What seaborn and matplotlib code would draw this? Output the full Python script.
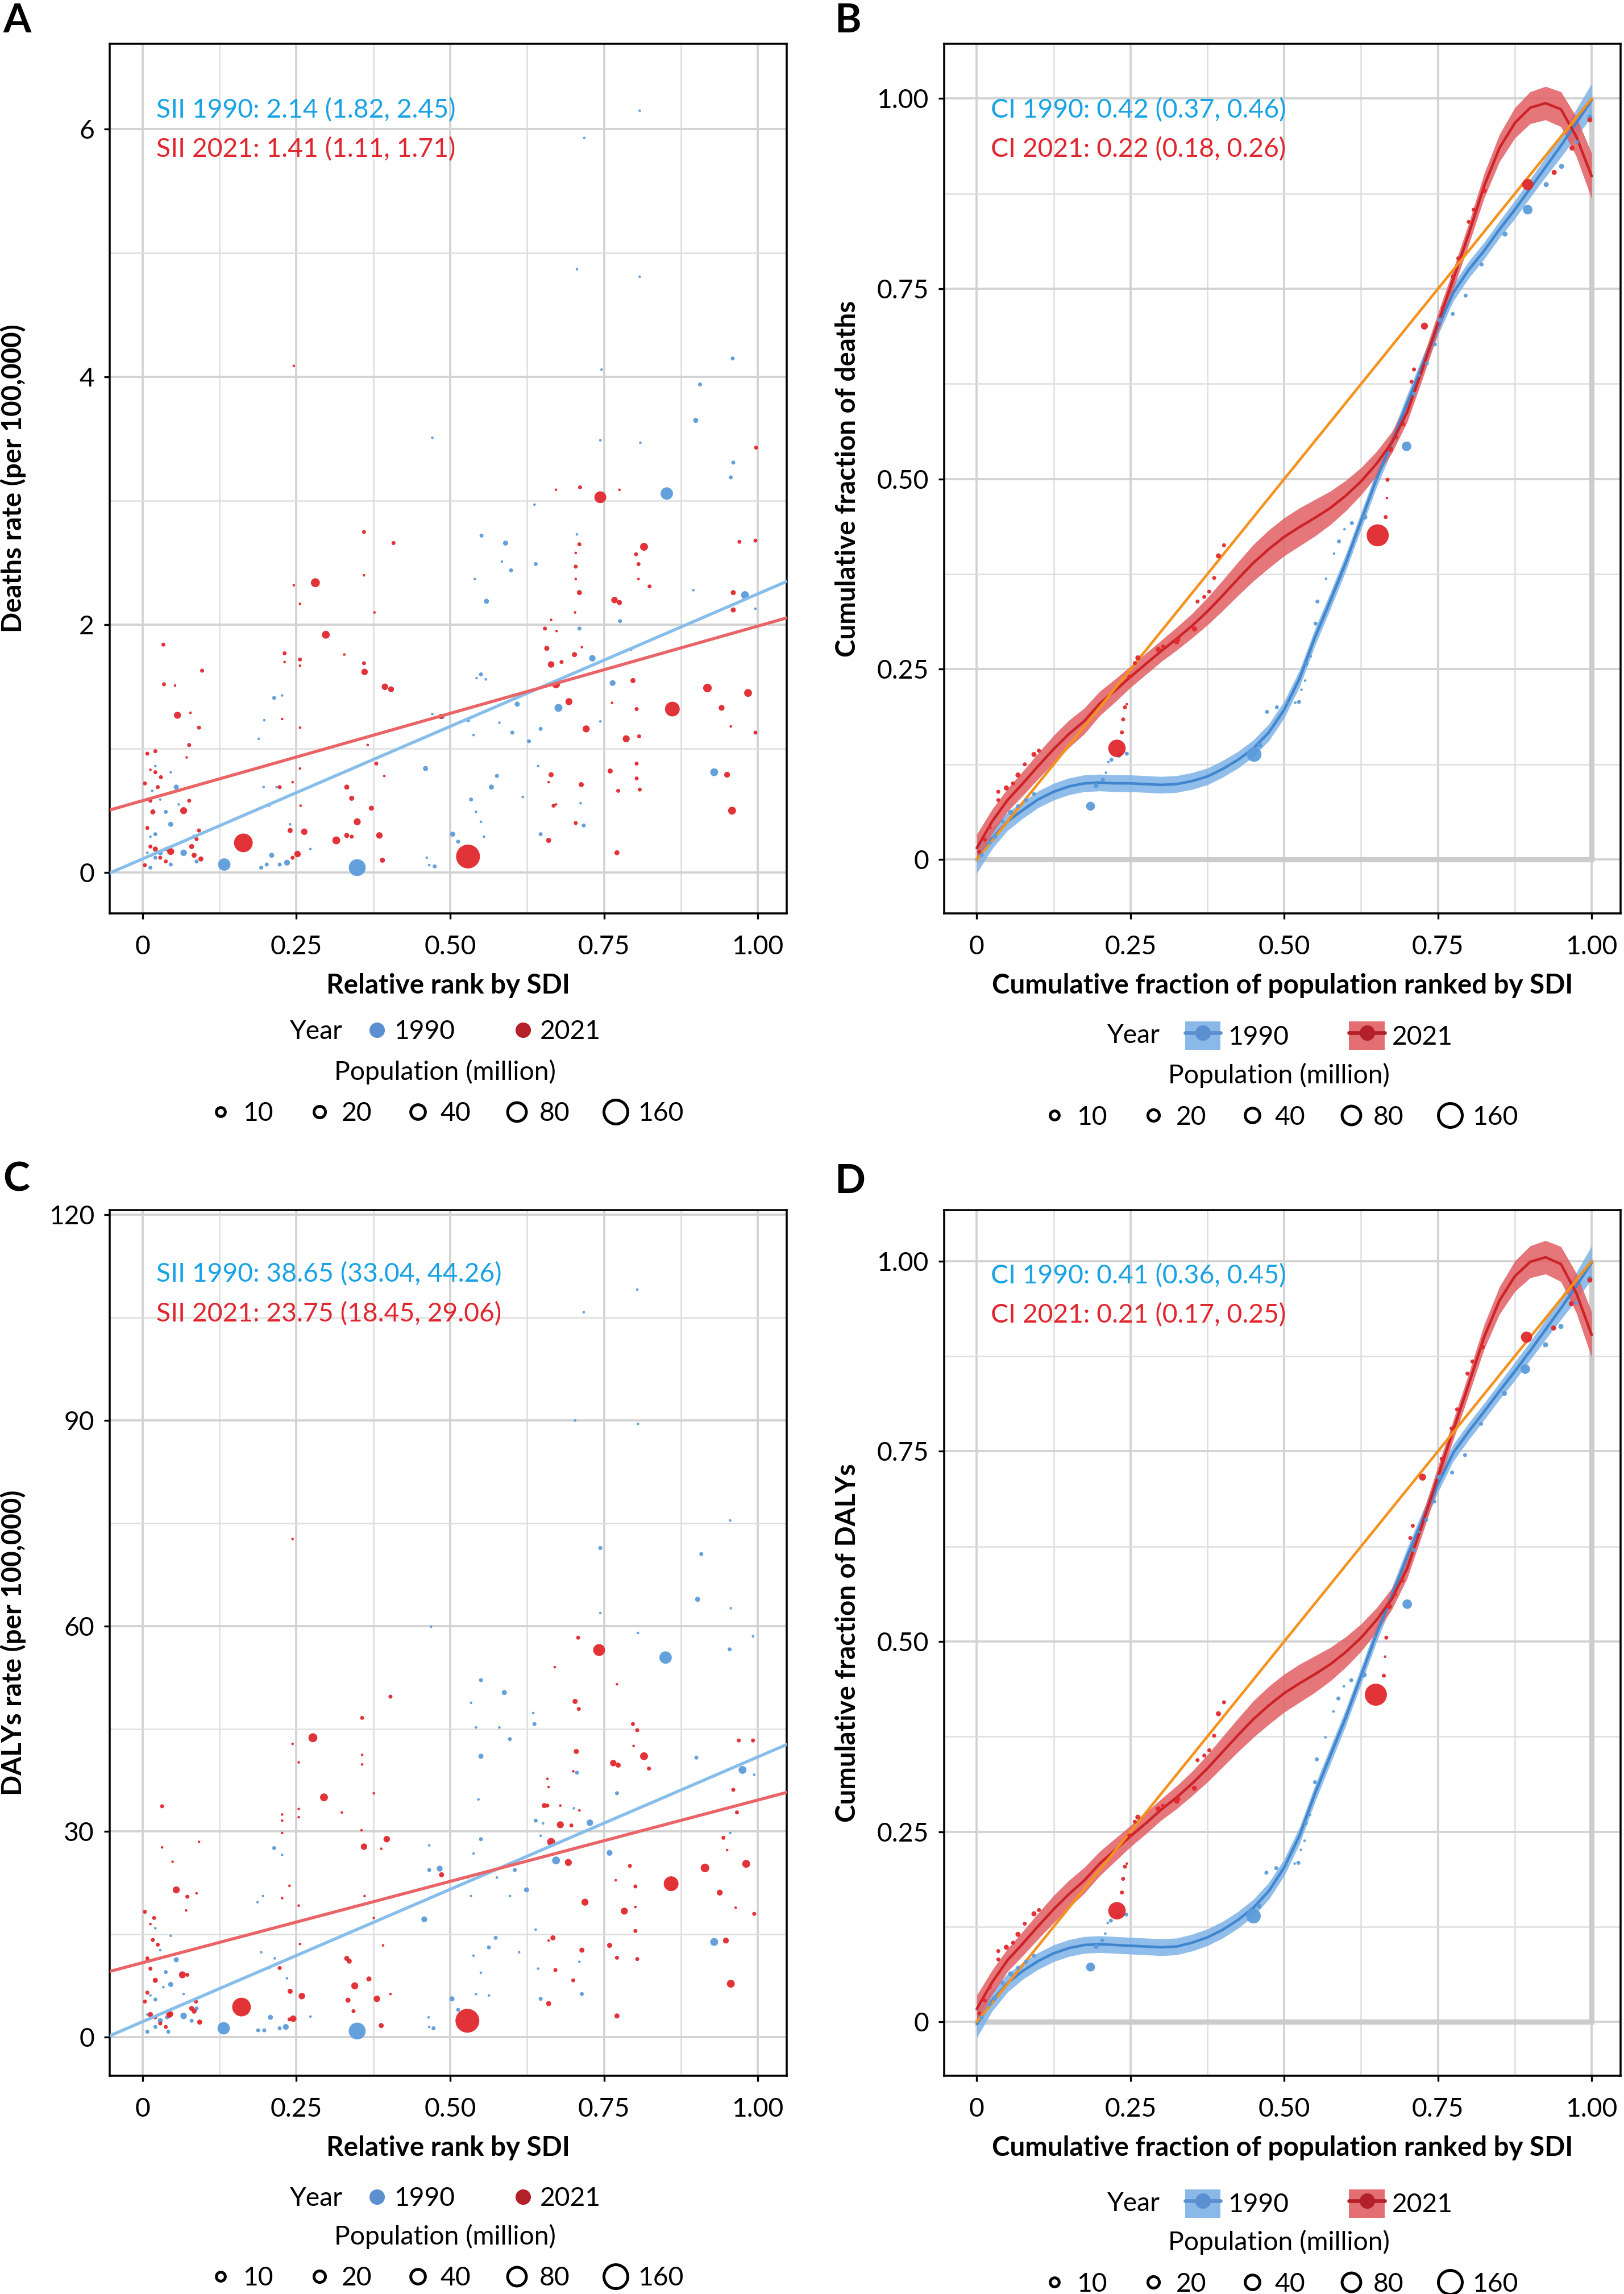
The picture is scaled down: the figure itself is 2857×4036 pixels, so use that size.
import pandas as pd
import seaborn as sns
import matplotlib.pyplot as plt
import matplotlib.lines as mlines
import matplotlib.patches as mpatches

# ---------------- panel A: deaths rate by relative SDI rank ----------------
a_x_1990 = [0.808, 0.718, 0.706, 0.808, 0.746, 0.959, 0.906, 0.899, 0.744, 0.809,
            0.471, 0.960, 0.956, 0.852, 0.637, 0.551, 0.590, 0.639, 0.584, 0.599,
            0.540, 0.706, 0.559, 0.979, 0.895, 0.776, 0.710, 0.996, 0.731, 0.794,
            0.550, 0.543, 0.558, 0.764, 0.609, 0.676, 0.744, 0.529, 0.487, 0.471,
            0.628, 0.647, 0.601, 0.580, 0.538, 0.460, 0.929, 0.576, 0.567, 0.618,
            0.534, 0.542, 0.643, 0.712, 0.717, 0.647, 0.504, 0.513, 0.550, 0.555,
            0.462, 0.466, 0.475, 0.349, 0.133, 0.235, 0.223, 0.210, 0.202, 0.193,
            0.013, 0.021, 0.029, 0.038, 0.046, 0.067, 0.046, 0.038, 0.055, 0.021,
            0.013, 0.008, 0.084, 0.088, 0.029, 0.046, 0.021, 0.206, 0.197, 0.218,
            0.189, 0.198, 0.214, 0.227, 0.273, 0.240, 0.016, 0.059]
a_y_1990 = [6.15, 5.93, 4.87, 4.81, 4.06, 4.15, 3.94, 3.65, 3.49, 3.47,
            3.51, 3.31, 3.19, 3.06, 2.97, 2.72, 2.66, 2.49, 2.51, 2.44,
            2.37, 2.73, 2.19, 2.24, 2.28, 2.03, 1.97, 2.13, 1.73, 1.80,
            1.60, 1.57, 1.56, 1.53, 1.36, 1.33, 1.22, 1.23, 1.26, 1.28,
            1.06, 1.16, 1.13, 1.21, 1.11, 0.84, 0.81, 0.78, 0.69, 0.61,
            0.59, 0.49, 0.86, 0.56, 0.38, 0.31, 0.31, 0.25, 0.41, 0.29,
            0.12, 0.06, 0.05, 0.04, 0.065, 0.08, 0.065, 0.14, 0.065, 0.04,
            0.04, 0.12, 0.16, 0.19, 0.065, 0.16, 0.39, 0.49, 0.69, 0.31,
            0.29, 0.16, 0.29, 0.09, 0.59, 0.81, 0.86, 0.54, 0.69, 0.69,
            1.08, 1.23, 1.41, 1.43, 0.19, 0.39, 0.66, 0.55]
a_pop_1990 = [0.3, 0.3, 0.3, 0.3, 0.3, 1, 1, 2, 0.3, 0.3,
              0.3, 1, 1, 25, 0.3, 1, 2, 1, 0.3, 1,
              0.3, 0.3, 2, 7, 0.3, 1, 1, 0.3, 4, 0.3,
              1, 0.3, 0.3, 3, 2, 7, 0.3, 1, 2, 0.3,
              1, 1, 1, 0.3, 0.3, 2, 7, 1, 2, 0.3,
              1, 0.3, 0.3, 0.3, 1, 1, 2, 1, 0.3, 0.3,
              0.3, 0.3, 1, 60, 25, 3, 1, 2, 1, 1,
              1, 1, 2, 1, 1, 4, 2, 1, 2, 1,
              0.3, 0.3, 1, 1, 0.3, 0.3, 0.3, 0.3, 0.3, 0.3,
              0.3, 0.3, 1, 0.3, 0.3, 0.3, 0.3, 0.3]

a_x_2021 = [0.246, 0.997, 0.744, 0.672, 0.711, 0.775, 0.360, 0.408, 0.815, 0.970,
            0.996, 0.281, 0.246, 0.360, 0.710, 0.704, 0.704, 0.704, 0.802, 0.806,
            0.806, 0.824, 0.256, 0.710, 0.767, 0.775, 0.960, 0.960, 0.377, 0.703,
            0.654, 0.664, 0.673, 0.298, 0.657, 0.702, 0.714, 0.328, 0.231, 0.231,
            0.256, 0.256, 0.360, 0.361, 0.097, 0.664, 0.681, 0.797, 0.394, 0.404,
            0.034, 0.035, 0.053, 0.057, 0.078, 0.092, 0.918, 0.984, 0.693, 0.941,
            0.861, 0.763, 0.803, 0.672, 0.721, 0.786, 0.807, 0.996, 0.485, 0.366,
            0.256, 0.227, 0.076, 0.072, 0.021, 0.008, 0.013, 0.021, 0.025, 0.030,
            0.004, 0.013, 0.017, 0.008, 0.013, 0.004, 0.021, 0.029, 0.038, 0.067,
            0.076, 0.046, 0.042, 0.080, 0.084, 0.095, 0.088, 0.092, 0.164, 0.223,
            0.244, 0.240, 0.263, 0.252, 0.244, 0.256, 0.257, 0.315, 0.332, 0.340,
            0.349, 0.332, 0.340, 0.372, 0.385, 0.390, 0.380, 0.393, 0.529, 0.664,
            0.668, 0.660, 0.672, 0.713, 0.704, 0.660, 0.760, 0.773, 0.803, 0.803,
            0.808, 0.771, 0.950, 0.958, 0.956]
a_y_2021 = [4.09, 3.43, 3.03, 3.09, 3.11, 3.09, 2.75, 2.66, 2.63, 2.67,
            2.68, 2.34, 2.32, 2.40, 2.65, 2.58, 2.47, 2.37, 2.57, 2.49,
            2.37, 2.31, 2.17, 2.26, 2.20, 2.18, 2.26, 2.12, 2.10, 2.10,
            1.97, 2.04, 1.95, 1.92, 1.81, 1.76, 1.82, 1.76, 1.77, 1.70,
            1.72, 1.67, 1.69, 1.62, 1.63, 1.68, 1.70, 1.55, 1.50, 1.48,
            1.84, 1.52, 1.51, 1.27, 1.29, 1.17, 1.49, 1.45, 1.38, 1.33,
            1.32, 1.37, 1.32, 1.52, 1.16, 1.08, 1.10, 1.13, 1.26, 1.03,
            1.17, 1.24, 1.03, 0.93, 0.98, 0.96, 0.83, 0.81, 0.69, 0.77,
            0.72, 0.58, 0.49, 0.36, 0.21, 0.06, 0.19, 0.12, 0.09, 0.50,
            0.58, 0.17, 0.19, 0.21, 0.14, 0.11, 0.27, 0.34, 0.24, 0.69,
            0.73, 0.34, 0.33, 0.15, 0.12, 0.84, 0.54, 0.26, 0.69, 0.60,
            0.41, 0.30, 0.29, 0.52, 0.30, 0.10, 0.88, 0.78, 0.13, 0.79,
            0.54, 0.73, 0.55, 0.71, 0.40, 0.26, 0.82, 0.66, 0.88, 0.76,
            0.67, 0.16, 0.79, 0.50, 1.18]
a_pop_2021 = [0.3, 1, 22, 0.3, 1, 0.3, 1, 1, 7, 1,
              1, 10, 0.3, 0.3, 1, 0.3, 1, 0.3, 1, 1,
              0.3, 1, 0.3, 2, 4, 2, 2, 2, 0.3, 0.3,
              1, 0.3, 0.3, 7, 2, 2, 0.3, 0.3, 1, 0.3,
              1, 0.3, 1, 4, 1, 4, 1, 2, 4, 3,
              1, 1, 0.3, 5, 0.3, 1, 9, 7, 5, 3,
              41, 0.3, 1, 7, 5, 5, 1, 1, 2, 0.3,
              0.3, 0.3, 1, 0.3, 1, 1, 0.3, 1, 1, 1,
              1, 1, 2, 1, 1, 1, 2, 1, 1, 5,
              1, 5, 2, 2, 2, 2, 1, 1, 80, 1,
              0.3, 2, 4, 4, 1, 0.3, 0.3, 7, 2, 2,
              5, 2, 1, 2, 4, 2, 1, 0.3, 160, 2,
              1, 0.3, 0.3, 2, 1, 2, 2, 1, 1, 1,
              1, 2, 3, 7, 0.3]

# ---------------- panel C: DALYs rate by relative SDI rank ----------------
c_x_1990 = [0.804, 0.717, 0.703, 0.805, 0.955, 0.744, 0.908, 0.902, 0.744, 0.956,
            0.469, 0.805, 0.992, 0.850, 0.954, 0.550, 0.588, 0.534, 0.635, 0.637,
            0.542, 0.580, 0.597, 0.771, 0.955, 0.550, 0.900, 0.975, 0.706, 0.994,
            0.546, 0.701, 0.727, 0.639, 0.651, 0.647, 0.550, 0.538, 0.672, 0.759,
            0.483, 0.466, 0.466, 0.605, 0.624, 0.576, 0.529, 0.534, 0.597, 0.458,
            0.929, 0.574, 0.563, 0.612, 0.538, 0.550, 0.639, 0.643, 0.710, 0.714,
            0.647, 0.503, 0.513, 0.542, 0.563, 0.465, 0.466, 0.473, 0.349, 0.132,
            0.233, 0.223, 0.208, 0.198, 0.188, 0.008, 0.021, 0.029, 0.040, 0.042,
            0.067, 0.046, 0.038, 0.055, 0.021, 0.013, 0.008, 0.080, 0.088, 0.029,
            0.046, 0.021, 0.034, 0.067, 0.206, 0.193, 0.215, 0.187, 0.196, 0.214,
            0.227, 0.273, 0.235]
c_y_1990 = [109.1, 105.8, 90.0, 89.5, 75.4, 71.4, 70.5, 63.9, 61.9, 62.6,
            59.9, 59.0, 58.5, 55.4, 56.6, 52.1, 50.3, 48.8, 47.3, 45.7,
            45.2, 45.2, 43.5, 35.6, 29.8, 41.0, 40.8, 39.0, 38.6, 38.3,
            34.7, 33.4, 31.3, 31.6, 31.2, 29.4, 28.9, 26.8, 25.8, 26.9,
            24.6, 24.4, 28.0, 24.4, 21.5, 23.3, 23.3, 20.6, 20.6, 17.2,
            13.9, 14.5, 13.1, 12.4, 11.9, 9.4, 15.7, 10.0, 11.0, 6.3,
            5.6, 5.6, 4.0, 6.3, 6.1, 2.9, 1.5, 1.3, 0.9, 1.3,
            1.5, 1.3, 2.9, 1.0, 1.0, 0.8, 1.5, 2.4, 2.9, 0.8,
            3.1, 7.7, 9.5, 11.3, 5.5, 6.1, 3.3, 2.4, 4.2, 12.7,
            14.8, 15.9, 7.3, 6.3, 10.1, 12.4, 11.5, 19.7, 20.6, 27.6,
            26.6, 3.0, 8.6]
c_pop_1990 = [0.3, 0.3, 0.3, 0.3, 0.3, 1, 1, 2, 0.3, 0.3,
              0.3, 0.3, 0.3, 25, 1, 1, 2, 0.3, 0.3, 1,
              0.3, 0.3, 1, 1, 0.3, 2, 1, 7, 1, 0.3,
              0.3, 0.3, 4, 1, 0.3, 0.3, 1, 0.3, 7, 3,
              3, 1, 0.3, 1, 2, 0.3, 0.3, 0.3, 0.3, 3,
              7, 1, 1, 0.3, 0.3, 0.3, 0.3, 0.3, 0.3, 1,
              1, 2, 1, 0.3, 0.3, 0.3, 0.3, 1, 60, 25,
              3, 1, 2, 1, 1, 1, 1, 2, 1, 1,
              4, 2, 1, 2, 1, 0.3, 0.3, 1, 1, 0.3,
              0.3, 0.3, 0.3, 0.3, 0.3, 0.3, 0.3, 0.3, 0.3, 1,
              0.3, 0.3, 0.3]

c_x_2021 = [0.244, 0.708, 0.742, 0.670, 0.771, 0.403, 0.703, 0.709, 0.357, 0.797,
            0.804, 0.277, 0.969, 0.992, 0.244, 0.798, 0.815, 0.705, 0.823, 0.765,
            0.773, 0.357, 0.357, 0.254, 0.700, 0.960, 0.658, 0.660, 0.376, 0.295,
            0.653, 0.658, 0.324, 0.679, 0.966, 0.679, 0.697, 0.227, 0.227, 0.227,
            0.254, 0.254, 0.356, 0.032, 0.710, 0.092, 0.032, 0.360, 0.397, 0.388,
            0.049, 0.944, 0.981, 0.914, 0.664, 0.692, 0.792, 0.950, 0.938, 0.859,
            0.801, 0.769, 0.055, 0.088, 0.073, 0.071, 0.361, 0.719, 0.783, 0.801,
            0.994, 0.964, 0.486, 0.254, 0.239, 0.227, 0.004, 0.019, 0.013, 0.017,
            0.008, 0.025, 0.013, 0.021, 0.008, 0.004, 0.013, 0.021, 0.029, 0.038,
            0.044, 0.046, 0.073, 0.065, 0.080, 0.084, 0.093, 0.087, 0.161, 0.223,
            0.240, 0.259, 0.245, 0.239, 0.256, 0.332, 0.336, 0.345, 0.334, 0.343,
            0.368, 0.381, 0.388, 0.376, 0.391, 0.403, 0.528, 0.667, 0.671, 0.660,
            0.714, 0.700, 0.660, 0.759, 0.771, 0.801, 0.804, 0.771, 0.948, 0.956]
c_y_2021 = [72.7, 58.3, 56.5, 54.0, 51.5, 49.7, 49.0, 47.9, 46.6, 45.7,
            44.8, 43.7, 43.3, 43.3, 42.8, 42.5, 41.0, 41.7, 39.2, 40.0,
            39.7, 41.2, 39.8, 40.1, 38.8, 36.1, 37.7, 36.5, 35.6, 35.0,
            33.8, 33.8, 32.8, 33.8, 32.8, 31.0, 30.9, 32.5, 31.6, 29.8,
            33.3, 32.1, 30.2, 33.7, 33.1, 28.5, 27.7, 27.8, 28.9, 27.5,
            25.6, 29.1, 25.3, 24.7, 28.5, 25.5, 25.0, 27.3, 21.1, 22.4,
            22.0, 22.9, 21.5, 21.0, 20.5, 18.5, 20.6, 19.7, 18.4, 19.0,
            18.0, 18.9, 23.7, 19.2, 22.1, 20.3, 18.3, 17.4, 16.5, 14.2,
            11.5, 13.5, 10.0, 8.3, 6.5, 5.2, 3.3, 2.9, 2.0, 1.5,
            3.3, 3.4, 9.1, 9.1, 4.2, 3.8, 2.2, 5.2, 4.4, 10.1,
            6.7, 6.0, 2.7, 2.6, 13.6, 11.5, 11.1, 7.5, 5.4, 3.8,
            8.5, 5.6, 1.7, 17.4, 13.4, 6.3, 2.4, 14.5, 9.8, 14.1,
            12.7, 8.3, 4.9, 13.4, 11.6, 15.5, 11.4, 3.1, 14.1, 7.8]
c_pop_2021 = [0.3, 1, 22, 0.3, 0.3, 1, 2, 1, 1, 1,
              1, 10, 1, 1, 0.3, 0.3, 7, 2, 1, 4,
              2, 0.3, 0.3, 0.3, 0.3, 1, 0.3, 0.3, 0.3, 7,
              2, 1, 0.3, 0.3, 1, 5, 1, 0.3, 0.3, 0.3,
              0.3, 0.3, 0.3, 1, 0.3, 0.3, 0.3, 4, 4, 0.3,
              0.3, 1, 7, 9, 7, 5, 1, 0.3, 3, 41,
              1, 0.3, 5, 0.3, 1, 0.3, 0.3, 5, 5, 0.3,
              1, 0.3, 2, 0.3, 0.3, 0.3, 1, 1, 0.3, 1,
              1, 1, 1, 2, 1, 1, 2, 1, 1, 1,
              4, 2, 1, 5, 2, 2, 2, 1, 80, 1,
              2, 4, 4, 1, 0.3, 2, 2, 5, 2, 1,
              2, 4, 2, 0.3, 0.3, 0.3, 160, 2, 1, 0.3,
              2, 1, 2, 2, 1, 1, 1, 2, 3, 7]

# SII regression lines (intercept, slope) and labels
a_fit_1990 = (0.11, 2.14)
a_fit_2021 = (0.58, 1.41)
c_fit_1990 = (2.25, 38.65)
c_fit_2021 = (10.86, 23.75)
a_sii = ["SII 1990: 2.14 (1.82, 2.45)", "SII 2021: 1.41 (1.11, 1.71)"]
c_sii = ["SII 1990: 38.65 (33.04, 44.26)", "SII 2021: 23.75 (18.45, 29.06)"]

# ---------------- panel B: concentration curve for deaths ----------------
b_x_1990 = [0.008, 0.021, 0.029, 0.042, 0.055, 0.067, 0.080, 0.093, 0.185, 0.194,
            0.205, 0.210, 0.214, 0.219, 0.231, 0.244, 0.451, 0.460, 0.472, 0.488,
            0.506, 0.518, 0.524, 0.528, 0.534, 0.536, 0.543, 0.551, 0.554, 0.568,
            0.581, 0.589, 0.598, 0.610, 0.631, 0.640, 0.648, 0.699, 0.711, 0.720,
            0.732, 0.745, 0.753, 0.774, 0.795, 0.821, 0.859, 0.896, 0.926, 0.951,
            0.976, 0.997]
b_y_1990 = [0.006, 0.022, 0.030, 0.050, 0.062, 0.070, 0.078, 0.086, 0.070, 0.097,
            0.105, 0.114, 0.128, 0.131, 0.137, 0.139, 0.138, 0.150, 0.194, 0.200,
            0.205, 0.206, 0.207, 0.223, 0.235, 0.257, 0.267, 0.310, 0.339, 0.369,
            0.402, 0.418, 0.434, 0.442, 0.450, 0.475, 0.499, 0.543, 0.612, 0.636,
            0.652, 0.677, 0.709, 0.717, 0.741, 0.782, 0.822, 0.854, 0.887, 0.911,
            0.943, 0.976]
b_pop_1990 = [1, 1, 2, 1, 2, 1, 1, 1, 10, 2,
              1, 0.3, 0.3, 1, 2, 1, 40, 2, 1, 1,
              0.3, 0.3, 1, 0.3, 0.3, 1, 0.3, 1, 1, 0.3,
              0.3, 1, 0.3, 1, 2, 0.3, 0.3, 12, 1, 0.3,
              1, 1, 2, 1, 1, 1, 2, 12, 2, 2,
              1, 2]

b_x_2021 = [0.004, 0.013, 0.021, 0.035, 0.035, 0.048, 0.059, 0.067, 0.078, 0.093,
            0.101, 0.228, 0.236, 0.238, 0.241, 0.244, 0.248, 0.257, 0.262, 0.295,
            0.303, 0.325, 0.328, 0.354, 0.359, 0.370, 0.378, 0.386, 0.393, 0.402,
            0.652, 0.665, 0.667, 0.668, 0.673, 0.682, 0.694, 0.707, 0.711, 0.728,
            0.758, 0.774, 0.783, 0.800, 0.808, 0.825, 0.896, 0.939, 0.968, 0.997]
b_y_2021 = [0.010, 0.026, 0.042, 0.078, 0.089, 0.094, 0.100, 0.111, 0.125, 0.138,
            0.143, 0.146, 0.167, 0.184, 0.200, 0.204, 0.240, 0.258, 0.265, 0.276,
            0.280, 0.286, 0.289, 0.303, 0.339, 0.345, 0.352, 0.370, 0.399, 0.413,
            0.426, 0.450, 0.475, 0.499, 0.539, 0.555, 0.572, 0.628, 0.644, 0.701,
            0.725, 0.766, 0.790, 0.838, 0.854, 0.879, 0.887, 0.903, 0.935, 0.972]
b_pop_2021 = [1, 1, 1, 1, 1, 2, 1, 2, 1, 2,
              1, 66, 1, 1, 1, 0.3, 1, 1, 2, 2,
              1, 2, 1, 2, 1, 1, 1, 1, 2, 1,
              128, 1, 0.3, 1, 2, 1, 1, 1, 1, 5,
              1, 1, 1, 1, 1, 2, 19, 2, 2, 2]

# ---------------- panel D: concentration curve for DALYs ----------------
d_x_1990 = [0.008, 0.021, 0.029, 0.042, 0.055, 0.067, 0.080, 0.093, 0.185, 0.194,
            0.204, 0.209, 0.213, 0.218, 0.230, 0.243, 0.450, 0.459, 0.471, 0.487,
            0.504, 0.517, 0.523, 0.527, 0.533, 0.535, 0.542, 0.550, 0.553, 0.567,
            0.580, 0.588, 0.597, 0.609, 0.630, 0.639, 0.647, 0.700, 0.711, 0.720,
            0.731, 0.744, 0.752, 0.773, 0.794, 0.820, 0.858, 0.892, 0.925, 0.950,
            0.975, 0.997]
d_y_1990 = [0.006, 0.023, 0.031, 0.051, 0.063, 0.071, 0.079, 0.087, 0.072, 0.099,
            0.107, 0.116, 0.130, 0.133, 0.139, 0.141, 0.139, 0.152, 0.196, 0.202,
            0.207, 0.208, 0.209, 0.226, 0.238, 0.261, 0.272, 0.315, 0.345, 0.374,
            0.408, 0.425, 0.441, 0.449, 0.456, 0.482, 0.506, 0.549, 0.620, 0.644,
            0.660, 0.684, 0.716, 0.722, 0.745, 0.786, 0.826, 0.858, 0.890, 0.914,
            0.945, 0.977]
d_pop_1990 = b_pop_1990

d_x_2021 = [0.004, 0.013, 0.021, 0.035, 0.035, 0.048, 0.059, 0.067, 0.078, 0.093,
            0.101, 0.228, 0.236, 0.238, 0.241, 0.244, 0.248, 0.257, 0.262, 0.295,
            0.303, 0.325, 0.328, 0.354, 0.359, 0.370, 0.378, 0.386, 0.393, 0.402,
            0.649, 0.662, 0.664, 0.666, 0.671, 0.680, 0.692, 0.705, 0.709, 0.725,
            0.756, 0.772, 0.781, 0.798, 0.806, 0.822, 0.894, 0.938, 0.967, 0.997]
d_y_2021 = [0.011, 0.028, 0.045, 0.082, 0.093, 0.098, 0.104, 0.115, 0.129, 0.142,
            0.147, 0.146, 0.170, 0.188, 0.204, 0.208, 0.245, 0.263, 0.269, 0.280,
            0.284, 0.290, 0.293, 0.307, 0.344, 0.350, 0.357, 0.376, 0.405, 0.420,
            0.430, 0.455, 0.480, 0.505, 0.546, 0.562, 0.580, 0.636, 0.652, 0.716,
            0.740, 0.780, 0.805, 0.852, 0.868, 0.887, 0.900, 0.912, 0.944, 0.975]
d_pop_2021 = b_pop_2021

# smoothed concentration curves, with CI half-widths
curve_x = [0.000, 0.025, 0.050, 0.075, 0.100, 0.125, 0.150, 0.175, 0.200, 0.225,
           0.250, 0.275, 0.300, 0.325, 0.350, 0.375, 0.400, 0.425, 0.450, 0.475,
           0.500, 0.525, 0.550, 0.575, 0.600, 0.625, 0.650, 0.675, 0.700, 0.725,
           0.750, 0.775, 0.800, 0.825, 0.850, 0.875, 0.900, 0.925, 0.950, 0.975,
           1.000]
b_curve_1990 = [0.000, 0.028, 0.050, 0.065, 0.079, 0.089, 0.096, 0.100, 0.101, 0.100,
                0.100, 0.099, 0.098, 0.099, 0.103, 0.109, 0.119, 0.131, 0.146, 0.167,
                0.197, 0.238, 0.292, 0.340, 0.390, 0.445, 0.500, 0.548, 0.600, 0.650,
                0.700, 0.745, 0.775, 0.800, 0.828, 0.854, 0.882, 0.910, 0.938, 0.968,
                0.998]
b_curve_2021 = [0.015, 0.050, 0.078, 0.100, 0.123, 0.145, 0.165, 0.182, 0.205, 0.222,
                0.240, 0.257, 0.274, 0.290, 0.307, 0.326, 0.347, 0.369, 0.390, 0.408,
                0.424, 0.437, 0.449, 0.462, 0.478, 0.497, 0.520, 0.548, 0.588, 0.645,
                0.705, 0.763, 0.822, 0.885, 0.935, 0.968, 0.988, 0.994, 0.986, 0.950,
                0.898]
d_curve_1990 = [-0.003, 0.028, 0.051, 0.067, 0.080, 0.090, 0.097, 0.101, 0.102, 0.101,
                0.100, 0.099, 0.098, 0.099, 0.104, 0.111, 0.121, 0.134, 0.150, 0.172,
                0.203, 0.245, 0.300, 0.350, 0.400, 0.455, 0.510, 0.560, 0.612, 0.660,
                0.707, 0.748, 0.776, 0.802, 0.829, 0.855, 0.882, 0.910, 0.938, 0.967,
                0.998]
d_curve_2021 = [0.017, 0.052, 0.081, 0.103, 0.126, 0.148, 0.168, 0.186, 0.208, 0.226,
                0.244, 0.261, 0.279, 0.295, 0.313, 0.333, 0.355, 0.377, 0.398, 0.416,
                0.432, 0.445, 0.457, 0.470, 0.486, 0.505, 0.528, 0.556, 0.596, 0.655,
                0.717, 0.778, 0.838, 0.900, 0.948, 0.980, 0.999, 1.005, 0.996, 0.958,
                0.903]
band_1990 = [0.018, 0.014, 0.012, 0.011, 0.011, 0.011, 0.011, 0.011, 0.011, 0.011,
             0.011, 0.011, 0.011, 0.011, 0.011, 0.011, 0.011, 0.011, 0.011, 0.011,
             0.011, 0.011, 0.011, 0.011, 0.011, 0.011, 0.011, 0.011, 0.011, 0.011,
             0.011, 0.011, 0.011, 0.011, 0.011, 0.012, 0.012, 0.013, 0.015, 0.018,
             0.022]
band_2021 = [0.018, 0.016, 0.015, 0.016, 0.017, 0.018, 0.018, 0.017, 0.016, 0.015,
             0.014, 0.014, 0.014, 0.015, 0.016, 0.018, 0.020, 0.022, 0.024, 0.025,
             0.025, 0.025, 0.024, 0.022, 0.020, 0.018, 0.016, 0.014, 0.013, 0.013,
             0.013, 0.013, 0.014, 0.016, 0.018, 0.020, 0.021, 0.022, 0.023, 0.026,
             0.030]
b_ci = ["CI 1990: 0.42 (0.37, 0.46)", "CI 2021: 0.22 (0.18, 0.26)"]
d_ci = ["CI 1990: 0.41 (0.36, 0.45)", "CI 2021: 0.21 (0.17, 0.25)"]

# reference lines of the concentration plots
equality_x = [0, 1]
equality_y = [0, 1]
limit_x = [0, 1, 1]
limit_y = [0, 0, 1]

legend_pops = [10, 20, 40, 80, 160]

# colours
PT = {"1990": "#5C9CDB", "2021": "#E1282D"}
LEG = {"1990": "#5B8FCF", "2021": "#B4202A"}
FIT = {"1990": "#86BDEB", "2021": "#EA6366"}
TXT = {"1990": "#19A3E4", "2021": "#E0262E"}
LINE = {"1990": "#3F86CF", "2021": "#CC2329"}
BAND = {"1990": "#7DB2E6", "2021": "#E15F63"}
ORANGE = "#F5921E"
FS = 11.1


def bubble_area(p):
    # bubble diameter (px at 300 dpi) grows with population, returned as pt^2
    d_px = 7.0 * p ** 0.353
    return (d_px * 72 / 300) ** 2


AMAX = bubble_area(160)

sns.set_theme(style="whitegrid")
plt.rcParams["font.family"] = ["Lato", "DejaVu Sans"]
plt.rcParams["text.color"] = "black"
plt.rcParams["axes.labelcolor"] = "black"
plt.rcParams["xtick.color"] = "black"
plt.rcParams["ytick.color"] = "black"


def style_axes(ax, ylim, yticks, ylabels, yminor, xlabel, ylabel):
    ax.set_xlim(-0.053, 1.047)
    ax.set_ylim(*ylim)
    ax.set_xticks([0, 0.25, 0.5, 0.75, 1.0], ["0", "0.25", "0.50", "0.75", "1.00"])
    ax.set_xticks([0.125, 0.375, 0.625, 0.875], minor=True)
    ax.set_yticks(yticks, ylabels)
    ax.set_yticks(yminor, minor=True)
    ax.set_axisbelow(True)
    ax.grid(which="major", color="#D2D2D2", lw=0.9)
    ax.grid(which="minor", color="#DEDEDE", lw=0.6)
    ax.tick_params(which="minor", length=0)
    ax.tick_params(which="major", length=2.5, width=0.8, labelsize=FS,
                   bottom=True, left=True)
    ax.tick_params(axis="x", pad=6.5)
    ax.tick_params(axis="y", pad=4.0)
    for sp in ax.spines.values():
        sp.set_color("black")
        sp.set_linewidth(0.85)
    ax.set_xlabel(xlabel, fontweight="bold", fontsize=FS + 0.3, va="center")
    ax.xaxis.set_label_coords(0.5, -0.083)
    ax.set_ylabel(ylabel, fontweight="bold", fontsize=FS + 0.3, va="center")
    ax.yaxis.set_label_coords(-0.143, 0.5)


def add_notes(ax, notes, ys):
    for txt, yr, y in zip(notes, ["1990", "2021"], ys):
        ax.text(0.069, y, txt, transform=ax.transAxes, color=TXT[yr],
                fontsize=FS, va="center", ha="left")


def add_legends(ax, handles, year_xy, leg_x, pop_xy, keylen, keyh, tpad, cspace):
    ax.text(year_xy[0], year_xy[1], "Year", transform=ax.transAxes,
            ha="left", va="center", fontsize=FS)
    leg1 = ax.legend(handles=handles, labels=["1990", "2021"], loc="center left",
                     bbox_to_anchor=(leg_x, year_xy[1]), ncol=2, frameon=False,
                     borderpad=0, borderaxespad=0, handlelength=keylen,
                     handleheight=keyh, handletextpad=tpad, columnspacing=cspace,
                     fontsize=FS)
    ax.add_artist(leg1)
    size_handles = [
        mlines.Line2D([], [], ls="", marker="o", mfc="none", mec="black", mew=1.2,
                      ms=bubble_area(p) ** 0.5, label=str(p))
        for p in legend_pops
    ]
    ax.legend(handles=size_handles, title="Population (million)", loc="upper center",
              bbox_to_anchor=pop_xy, ncol=5, frameon=False, borderpad=0,
              borderaxespad=0, handlelength=1.1, handletextpad=0.3,
              columnspacing=1.2, labelspacing=0.65, fontsize=FS,
              title_fontsize=FS)


def points(ax, x90, y90, p90, x21, y21, p21, z):
    pops = p90 + p21
    df = pd.DataFrame({
        "x": x90 + x21,
        "y": y90 + y21,
        "area": [bubble_area(p) for p in pops],
        "Year": ["1990"] * len(x90) + ["2021"] * len(x21),
    })
    sns.scatterplot(data=df, x="x", y="y", hue="Year", size="area",
                    sizes=(0, AMAX), size_norm=(0, AMAX), palette=PT,
                    linewidth=0, alpha=0.95, legend=False, ax=ax, zorder=z)


def rate_panel(ax, x90, y90, p90, x21, y21, p21, fits, notes, note_y, ylim,
               yticks, yminor, ylabel, year_y, pop_y):
    points(ax, x90, y90, p90, x21, y21, p21, 2)
    for yr, (b, m) in zip(["1990", "2021"], fits):
        ax.axline((0, b), slope=m, color=FIT[yr], lw=1.3, zorder=3)
    style_axes(ax, ylim, yticks, [str(t) for t in yticks], yminor,
               "Relative rank by SDI", ylabel)
    add_notes(ax, notes, note_y)
    handles = [mlines.Line2D([], [], ls="", marker="o", ms=5.5, color=LEG[yr])
               for yr in ["1990", "2021"]]
    add_legends(ax, handles, (0.265, year_y), 0.375, (0.495, pop_y),
                1.0, 0.7, 0.15, 2.1)


def conc_panel(ax, x90, y90, p90, x21, y21, p21, curves, notes, ylim, ylabel,
               year_y, pop_y):
    ax.plot(limit_x, limit_y, color="#CCCCCC", lw=2.2, zorder=1.5,
            solid_joinstyle="miter")
    for yr, curve, band in zip(["1990", "2021"], curves, [band_1990, band_2021]):
        lo = [c - w for c, w in zip(curve, band)]
        hi = [c + w for c, w in zip(curve, band)]
        ax.fill_between(curve_x, lo, hi, color=BAND[yr], alpha=0.85, lw=0, zorder=3)
        sns.lineplot(x=curve_x, y=curve, color=LINE[yr], lw=1.1, ax=ax, zorder=4)
    ax.plot(equality_x, equality_y, color=ORANGE, lw=1.1, zorder=5)
    points(ax, x90, y90, p90, x21, y21, p21, 6)
    style_axes(ax, ylim, [0, 0.25, 0.5, 0.75, 1.0],
               ["0", "0.25", "0.50", "0.75", "1.00"],
               [0.125, 0.375, 0.625, 0.875],
               "Cumulative fraction of population ranked by SDI", ylabel)
    add_notes(ax, notes, (0.924, 0.879))
    handles = [
        (mpatches.Patch(facecolor=BAND[yr], alpha=0.9, lw=0),
         mlines.Line2D([], [], color=LEG[yr], lw=1.6, marker="o", ms=5.5))
        for yr in ["1990", "2021"]
    ]
    add_legends(ax, handles, (0.240, year_y), 0.356, (0.495, pop_y),
                1.35, 1.28, 0.28, 2.3)


fig = plt.figure(figsize=(2857 / 300, 4036 / 300), dpi=300)
ax_a = fig.add_axes([0.0676, 0.6018, 0.4169, 0.3791])
ax_b = fig.add_axes([0.5814, 0.6018, 0.4165, 0.3791])
ax_c = fig.add_axes([0.0676, 0.0951, 0.4169, 0.3774])
ax_d = fig.add_axes([0.5814, 0.0951, 0.4165, 0.3774])

rate_panel(ax_a, a_x_1990, a_y_1990, a_pop_1990, a_x_2021, a_y_2021, a_pop_2021,
           [a_fit_1990, a_fit_2021], a_sii, (0.924, 0.879), (-0.33, 6.69),
           [0, 2, 4, 6], [1, 3, 5], "Deaths rate (per 100,000)", -0.136, -0.168)
rate_panel(ax_c, c_x_1990, c_y_1990, c_pop_1990, c_x_2021, c_y_2021, c_pop_2021,
           [c_fit_1990, c_fit_2021], c_sii, (0.926, 0.880), (-5.64, 120.7),
           [0, 30, 60, 90, 120], [15, 45, 75, 105], "DALYs rate (per 100,000)",
           -0.1415, -0.171)
conc_panel(ax_b, b_x_1990, b_y_1990, b_pop_1990, b_x_2021, b_y_2021, b_pop_2021,
           [b_curve_1990, b_curve_2021], b_ci, (-0.071, 1.072),
           "Cumulative fraction of deaths", -0.1405, -0.172)
conc_panel(ax_d, d_x_1990, d_y_1990, d_pop_1990, d_x_2021, d_y_2021, d_pop_2021,
           [d_curve_1990, d_curve_2021], d_ci, (-0.071, 1.067),
           "Cumulative fraction of DALYs", -0.1475, -0.178)

for lab, x, y in [("A", 0.002, 0.999), ("B", 0.514, 0.999),
                  ("C", 0.002, 0.494), ("D", 0.514, 0.493)]:
    fig.text(x, y, lab, fontsize=17, fontweight="bold", va="top", ha="left")

fig.savefig("out.png", dpi=300)
